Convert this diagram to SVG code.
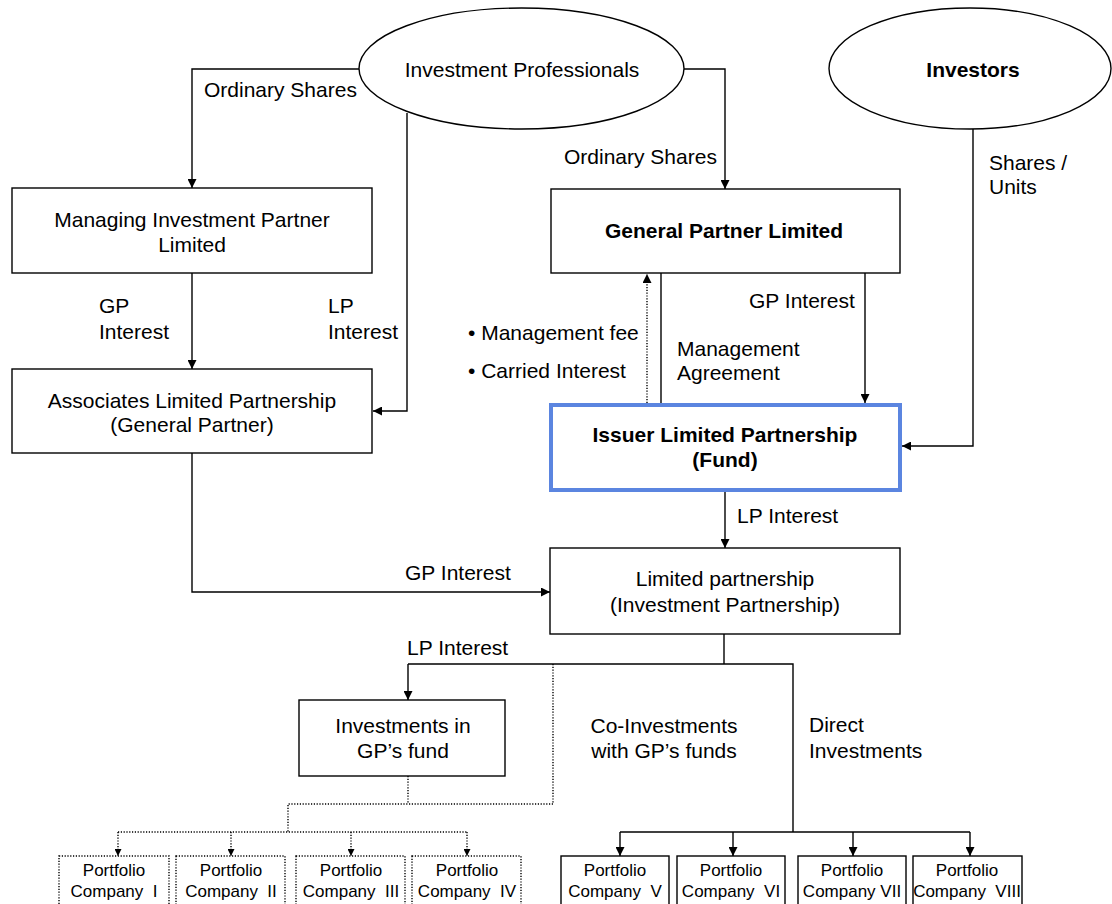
<svg xmlns="http://www.w3.org/2000/svg" width="1112" height="904" viewBox="0 0 1112 904">
<defs>
<marker id="arr" viewBox="0 0 10 10" refX="10" refY="5" markerWidth="10" markerHeight="9" markerUnits="userSpaceOnUse" orient="auto"><path d="M0,0 L10,5 L0,10 z" fill="#000"/></marker>
<marker id="arrs" viewBox="0 0 10 10" refX="10" refY="5" markerWidth="7" markerHeight="7" markerUnits="userSpaceOnUse" orient="auto"><path d="M0,0 L10,5 L0,10 z" fill="#000"/></marker>
</defs>
<style>
text{font-family:"Liberation Sans",Arial,sans-serif;font-size:21px;fill:#000}
.c{text-anchor:middle}
.b{font-weight:bold}
.s{font-size:17px}
.box{fill:#fff;stroke:#000;stroke-width:1.4}
.dbox{fill:#fff;stroke:#000;stroke-width:1.4;stroke-dasharray:1.2 1.6}
.blue{fill:#fff;stroke:#5B85E0;stroke-width:4}
.ln{fill:none;stroke:#000;stroke-width:1.4}
.dot{fill:none;stroke:#000;stroke-width:1.4;stroke-dasharray:1.2 1.6}
</style>
<rect width="1112" height="904" fill="#fff"/>
<g id="connectors">
<path class="ln" d="M359,69 H192 V188" marker-end="url(#arr)"/>
<path class="ln" d="M684,69 H725 V189" marker-end="url(#arr)"/>
<path class="ln" d="M407,113 V411 H373" marker-end="url(#arr)"/>
<path class="ln" d="M192,273 V369" marker-end="url(#arr)"/>
<path class="ln" d="M973,129 V446 H902" marker-end="url(#arr)"/>
<path class="ln" d="M865,273 V403" marker-end="url(#arr)"/>
<path class="ln" d="M661,273 V403"/>
<path class="dot" d="M647,403 V274" marker-end="url(#arr)"/>
<path class="ln" d="M192,453 V592 H550" marker-end="url(#arr)"/>
<path class="ln" d="M725,492 V548" marker-end="url(#arr)"/>
<path class="ln" d="M724,634 V664"/>
<path class="ln" d="M408,664 H793 V832"/>
<path class="ln" d="M408,664 V700" marker-end="url(#arr)"/>
<path class="ln" d="M620,832 H970"/>
<path class="ln" d="M620,832 V856" marker-end="url(#arr)"/>
<path class="ln" d="M733,832 V856" marker-end="url(#arr)"/>
<path class="ln" d="M853,832 V856" marker-end="url(#arr)"/>
<path class="ln" d="M970,832 V856" marker-end="url(#arr)"/>
<path class="dot" d="M553,664 V804 H288 V832"/>
<path class="dot" d="M408,776 V804"/>
<path class="dot" d="M118,832 H467"/>
<path class="dot" d="M118,832 V856" marker-end="url(#arrs)"/>
<path class="dot" d="M231,832 V856" marker-end="url(#arrs)"/>
<path class="dot" d="M351,832 V856" marker-end="url(#arrs)"/>
<path class="dot" d="M467,832 V856" marker-end="url(#arrs)"/>
</g>
<g id="labels">
<text x="204" y="97">Ordinary Shares</text>
<text x="564" y="164">Ordinary Shares</text>
<text x="989" y="170">Shares /</text>
<text x="989" y="194">Units</text>
<text x="99" y="313">GP</text>
<text x="99" y="339">Interest</text>
<text x="328" y="313">LP</text>
<text x="328" y="339">Interest</text>
<text x="749" y="308">GP Interest</text>
<text x="468" y="340">• Management fee</text>
<text x="468" y="378">• Carried Interest</text>
<text x="677" y="356">Management</text>
<text x="677" y="380">Agreement</text>
<text x="737" y="523">LP Interest</text>
<text x="405" y="580">GP Interest</text>
<text x="407" y="655">LP Interest</text>
<text class="c" x="664" y="733">Co-Investments</text>
<text class="c" x="664" y="758">with GP’s funds</text>
<text x="809" y="732">Direct</text>
<text x="809" y="758">Investments</text>
</g>
<g id="investment-professionals">
<ellipse class="box" cx="521.5" cy="68.5" rx="162.5" ry="60.5"/>
<text class="c" x="522" y="77">Investment Professionals</text>
</g>
<g id="investors">
<ellipse class="box" cx="970" cy="68.5" rx="141" ry="60.5"/>
<text class="c b" x="973" y="77">Investors</text>
</g>
<g id="managing-investment-partner">
<rect class="box" x="12" y="188" width="360" height="85"/>
<text class="c" x="192" y="227">Managing Investment Partner</text>
<text class="c" x="192" y="252">Limited</text>
</g>
<g id="general-partner">
<rect class="box" x="551" y="189" width="349" height="84"/>
<text class="c b" x="724" y="238">General Partner Limited</text>
</g>
<g id="associates">
<rect class="box" x="12" y="369" width="360" height="84"/>
<text class="c" x="192" y="408">Associates Limited Partnership</text>
<text class="c" x="192" y="432">(General Partner)</text>
</g>
<g id="issuer">
<rect class="blue" x="551" y="405" width="349" height="85"/>
<text class="c b" x="725" y="442">Issuer Limited Partnership</text>
<text class="c b" x="725" y="467">(Fund)</text>
</g>
<g id="limited-partnership">
<rect class="box" x="550" y="548" width="350" height="86"/>
<text class="c" x="725" y="586">Limited partnership</text>
<text class="c" x="725" y="612">(Investment Partnership)</text>
</g>
<g id="investments-gp-fund">
<rect class="box" x="299" y="700" width="206" height="76"/>
<text class="c" x="403" y="733">Investments in</text>
<text class="c" x="403" y="758">GP’s fund</text>
</g>
<g id="pc1"><rect class="dbox" x="59" y="856" width="110" height="54"/><text class="c s" x="114" y="876">Portfolio</text><text class="c s" x="114" y="897" xml:space="preserve">Company  I</text></g>
<g id="pc2"><rect class="dbox" x="176" y="856" width="109" height="54"/><text class="c s" x="231" y="876">Portfolio</text><text class="c s" x="231" y="897" xml:space="preserve">Company  II</text></g>
<g id="pc3"><rect class="dbox" x="296" y="856" width="109" height="54"/><text class="c s" x="351" y="876">Portfolio</text><text class="c s" x="351" y="897" xml:space="preserve">Company  III</text></g>
<g id="pc4"><rect class="dbox" x="412" y="856" width="109" height="54"/><text class="c s" x="467" y="876">Portfolio</text><text class="c s" x="467" y="897" xml:space="preserve">Company  IV</text></g>
<g id="pc5"><rect class="box" x="561" y="856" width="108" height="54"/><text class="c s" x="615" y="876">Portfolio</text><text class="c s" x="615" y="897" xml:space="preserve">Company  V</text></g>
<g id="pc6"><rect class="box" x="677" y="856" width="108" height="54"/><text class="c s" x="731" y="876">Portfolio</text><text class="c s" x="731" y="897" xml:space="preserve">Company  VI</text></g>
<g id="pc7"><rect class="box" x="798" y="856" width="108" height="54"/><text class="c s" x="852" y="876">Portfolio</text><text class="c s" x="852" y="897">Company VII</text></g>
<g id="pc8"><rect class="box" x="913" y="856" width="109" height="54"/><text class="c s" x="967" y="876">Portfolio</text><text class="c s" x="967" y="897" xml:space="preserve">Company  VIII</text></g>
</svg>
